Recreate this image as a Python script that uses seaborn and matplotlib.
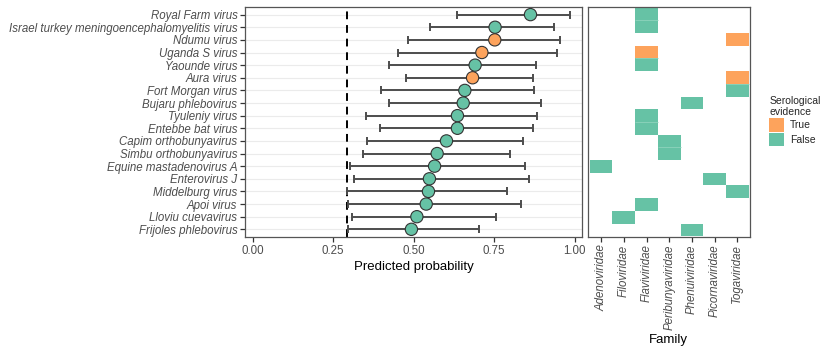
import numpy as np
import pandas as pd
import seaborn as sns
import matplotlib.pyplot as plt
from matplotlib.colors import ListedColormap
from matplotlib.patches import Patch

viruses = ['Royal Farm virus', 'Israel turkey meningoencephalomyelitis virus', 'Ndumu virus',
           'Uganda S virus', 'Yaounde virus', 'Aura virus', 'Fort Morgan virus',
           'Bujaru phlebovirus', 'Tyuleniy virus', 'Entebbe bat virus',
           'Capim orthobunyavirus', 'Simbu orthobunyavirus', 'Equine mastadenovirus A',
           'Enterovirus J', 'Middelburg virus', 'Apoi virus', 'Lloviu cuevavirus',
           'Frijoles phlebovirus']
prob = [0.863, 0.753, 0.752, 0.712, 0.691, 0.683, 0.659, 0.654, 0.636, 0.636,
        0.602, 0.573, 0.565, 0.549, 0.546, 0.539, 0.510, 0.493]
lower = [0.634, 0.550, 0.482, 0.451, 0.424, 0.477, 0.400, 0.424, 0.351, 0.394,
         0.354, 0.344, 0.301, 0.316, 0.294, 0.296, 0.307, 0.297]
upper = [0.985, 0.937, 0.955, 0.944, 0.880, 0.872, 0.873, 0.896, 0.884, 0.870,
         0.840, 0.798, 0.845, 0.857, 0.789, 0.835, 0.755, 0.702]
sero = [False, False, True, True, False, True, False, False, False, False,
        False, False, False, False, False, False, False, False]
family = ['Flaviviridae', 'Flaviviridae', 'Togaviridae', 'Flaviviridae', 'Flaviviridae',
          'Togaviridae', 'Togaviridae', 'Phenuiviridae', 'Flaviviridae', 'Flaviviridae',
          'Peribunyaviridae', 'Peribunyaviridae', 'Adenoviridae', 'Picornaviridae',
          'Togaviridae', 'Flaviviridae', 'Filoviridae', 'Phenuiviridae']
families = ['Adenoviridae', 'Filoviridae', 'Flaviviridae', 'Peribunyaviridae',
            'Phenuiviridae', 'Picornaviridae', 'Togaviridae']
cutoff = 0.293

orange = '#FDA35C'
green = '#66C2A5'
txt = '#4D4D4D'

sns.set_style('white')
plt.rcParams['font.family'] = ['Liberation Sans', 'DejaVu Sans']

df = pd.DataFrame({'virus': viruses, 'prob': prob, 'lower': lower,
                   'upper': upper, 'sero': sero, 'family': family})

fig = plt.figure(figsize=(8.34, 3.52), dpi=100)
ax = fig.add_axes([0.2938, 0.327, 0.404, 0.653])
ax2 = fig.add_axes([0.705, 0.327, 0.194, 0.653])

# left: point estimates with intervals
pos = np.arange(len(df))
for p in pos:
    ax.axhline(p, color='#EBEBEB', lw=0.8, zorder=0)
ax.axvline(cutoff, color='black', ls=(0, (4, 3)), lw=1.4, zorder=1)
ax.errorbar(df['prob'], pos, xerr=[df['prob'] - df['lower'], df['upper'] - df['prob']],
            fmt='none', ecolor='#4D4D4D', elinewidth=1.4, capsize=3, capthick=1.4, zorder=2)
sns.scatterplot(data=df, x='prob', y=pos, hue='sero', palette={True: orange, False: green},
                s=78, edgecolor='#333333', linewidth=0.8, legend=False, ax=ax, zorder=3)
ax.set_xlim(-0.024, 1.023)
ax.set_ylim(len(df) - 0.4, -0.6)
ax.set_yticks(pos)
ax.set_yticklabels(viruses, style='italic', fontsize=8.3, color=txt)
ax.set_xticks([0, 0.25, 0.5, 0.75, 1.0])
ax.set_xticklabels(['0.00', '0.25', '0.50', '0.75', '1.00'], fontsize=8.3, color=txt)
ax.set_xlabel('Predicted probability', fontsize=9.5, color='black', labelpad=3)
ax.set_ylabel('')

# right: family tiles
mat = pd.DataFrame(np.nan, index=viruses, columns=families)
for v, f, s in zip(viruses, family, sero):
    mat.loc[v, f] = 1.0 if s else 0.0
sns.heatmap(mat, mask=mat.isna(), cmap=ListedColormap([green, orange]), vmin=0, vmax=1,
            cbar=False, linewidths=0, ax=ax2)
# faint separators between stacked tiles
for i in range(len(viruses) - 1):
    f = family[i]
    if family[i + 1] == f:
        j = families.index(f)
        ax2.hlines(i + 1, j, j + 1, color='#8ED3BC', lw=0.6, zorder=3)
ax2.set_xlim(-0.08, 7.05)
ax2.set_ylim(18.05, -0.05)
ax2.set_yticks([])
ax2.set_xticks(np.arange(len(families)) + 0.5)
ax2.set_xticklabels(families, rotation=90, style='italic', fontsize=8.3, color=txt)
ax2.set_xlabel('Family', fontsize=9.5, color='black', labelpad=3)
ax2.set_ylabel('')

for a in (ax, ax2):
    for sp in a.spines.values():
        sp.set_visible(True)
        sp.set_color('#555555')
        sp.set_linewidth(0.9)
    a.tick_params(axis='x', length=3.5, width=0.9, color='#333333', pad=2)
    a.tick_params(axis='y', length=3.5, width=0.9, color='#333333', pad=2)
ax2.tick_params(axis='y', length=0)
ax.tick_params(left=True, bottom=True)
ax2.tick_params(bottom=True)

handles = [Patch(facecolor=orange, edgecolor='none', label='True'),
           Patch(facecolor=green, edgecolor='none', label='False')]
fig.legend(handles=handles, title='Serological\nevidence', loc='upper left',
           bbox_to_anchor=(0.911, 0.755), frameon=False, fontsize=7.5, title_fontsize=7.5,
           handlelength=1.4, handleheight=1.6, handletextpad=0.6, labelspacing=0.1,
           alignment='left')

fig.savefig('out.png', dpi=100)
